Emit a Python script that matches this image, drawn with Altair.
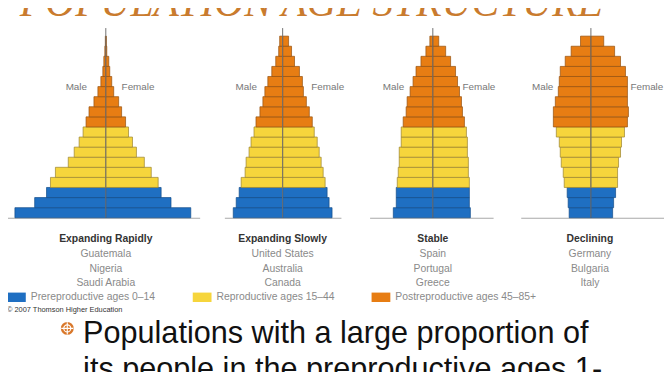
import altair as alt
import pandas as pd

# ---------------- data ----------------
TITLE = "POPULATION AGE STRUCTURE"
AGE_START = [0, 5, 10, 15, 20, 25, 30, 35, 40, 45, 50, 55, 60, 65, 70, 75, 80, 85]
GROUPS = ["Prereproductive ages 0–14", "Reproductive ages 15–44", "Postreproductive ages 45–85+"]
GROUP_COLORS = ["#1f6fc2", "#f6d53c", "#e77d13"]
GROUP_STROKES = ["#114c88", "#9a8330", "#94500f"]

NAMES = ["Expanding Rapidly", "Expanding Slowly", "Stable", "Declining"]
COUNTRIES = [
    ["Guatemala", "Nigeria", "Saudi Arabia"],
    ["United States", "Australia", "Canada"],
    ["Spain", "Portugal", "Greece"],
    ["Germany", "Bulgaria", "Italy"],
]
# percent of population, ages 0-4 ... 85+
MALE = [
    [9.2, 7.2, 6.0, 5.6, 5.1, 3.8, 3.2, 2.7, 2.3, 2.0, 1.7, 1.2, 0.8, 0.5, 0.3, 0.2, 0.1, 0.05],
    [5.0, 4.7, 4.4, 4.2, 3.8, 3.7, 3.4, 3.2, 2.9, 2.7, 2.3, 2.0, 1.8, 1.5, 1.1, 0.7, 0.4, 0.3],
    [4.0, 3.7, 3.7, 3.6, 3.5, 3.4, 3.4, 3.2, 3.2, 3.0, 2.7, 2.6, 2.3, 2.0, 1.7, 1.2, 0.7, 0.3],
    [2.2, 2.3, 2.4, 2.7, 2.8, 3.0, 3.1, 3.2, 3.5, 3.8, 3.8, 3.6, 3.3, 3.2, 3.1, 2.6, 2.0, 1.05],
]
FEMALE = [
    [8.6, 6.6, 5.6, 5.3, 4.6, 3.9, 3.1, 2.7, 2.3, 2.0, 1.6, 1.3, 0.8, 0.6, 0.4, 0.3, 0.1, 0.05],
    [5.0, 4.7, 4.5, 4.3, 4.1, 3.9, 3.7, 3.5, 3.2, 3.0, 2.7, 2.4, 2.1, 2.0, 1.7, 1.2, 0.9, 0.6],
    [3.8, 3.7, 3.7, 3.7, 3.6, 3.6, 3.5, 3.5, 3.4, 3.2, 3.0, 2.9, 2.7, 2.5, 2.3, 1.8, 1.3, 0.6],
    [2.2, 2.3, 2.5, 2.7, 2.7, 2.8, 3.0, 3.1, 3.4, 3.7, 3.8, 3.7, 3.7, 3.7, 3.5, 3.0, 2.4, 1.3],
]
SEXES = ["Male", "Female"]
COPYRIGHT = "© 2007 Thomson Higher Education"
BULLET_LINES = ["Populations with a large proportion of", "its people in the preproductive ages 1-"]

# ---------------- layout ----------------
PX_PER_UNIT = 10
PANEL_DOMAIN = [(-10.0, 9.5), (-5.9, 5.9), (-6.4, 6.1), (-7.1, 7.4)]
LABEL_X = [(-1.9, 1.6), (-2.6, 2.9), (-2.9, 3.0), (-3.8, 4.0)]
LABEL_AGE = 65
TITLE_DX = [2.5, 0, 1.5, -2.5]
PLOT_H = 192
FONT = "Liberation Sans"


def group_of(age):
    if age < 15:
        return GROUPS[0]
    if age < 45:
        return GROUPS[1]
    return GROUPS[2]


legend = alt.Legend(
    orient="none", legendX=0, legendY=309, direction="horizontal", title=None,
    symbolType="M-1,-0.5H1V0.5H-1Z", symbolSize=361, symbolStrokeWidth=0,
    symbolOpacity=1, labelFontSize=10.5, labelColor="#8a8a8a", labelFont=FONT,
    labelOffset=5, columnPadding=37, gridAlign="each",
)


def panel(i):
    rows = []
    for a, m, f in zip(AGE_START, MALE[i], FEMALE[i]):
        rows.append({"age": a, "sex": "Male", "pct": m, "group": group_of(a)})
        rows.append({"age": a, "sex": "Female", "pct": f, "group": group_of(a)})
    df = pd.DataFrame(rows)
    lo, hi = PANEL_DOMAIN[i]
    xscale = alt.Scale(domain=[lo, hi], nice=False, zero=False)
    yscale = alt.Scale(domain=[0, 94], nice=False)
    bars = alt.Chart(df).transform_calculate(
        signed="datum.sex == 'Male' ? -datum.pct : datum.pct",
        zero="0",
        age_end="datum.age + 5",
    ).mark_bar(strokeWidth=0.7).encode(
        x=alt.X("signed:Q", scale=xscale, title=None,
                axis=alt.Axis(labels=False, ticks=False, grid=False, domain=True,
                              domainColor="#a8a8a8", domainWidth=1.2)),
        x2="zero:Q",
        y=alt.Y("age:Q", scale=yscale, axis=None),
        y2="age_end:Q",
        color=alt.Color("group:N", scale=alt.Scale(domain=GROUPS, range=GROUP_COLORS), legend=legend),
        stroke=alt.Stroke("group:N", scale=alt.Scale(domain=GROUPS, range=GROUP_STROKES), legend=None),
    )
    center = alt.Chart(pd.DataFrame({"center": [0]})).mark_rule(
        color="#707070", strokeWidth=1
    ).encode(x="center:Q")
    sex_df = pd.DataFrame({"sex": SEXES})
    male_lbl = alt.Chart(sex_df).transform_filter("datum.sex == 'Male'").mark_text(
        align="right", baseline="middle", fontSize=10, color="#777777", font=FONT
    ).encode(x=alt.datum(LABEL_X[i][0]), y=alt.datum(LABEL_AGE), text="sex:N")
    female_lbl = alt.Chart(sex_df).transform_filter("datum.sex == 'Female'").mark_text(
        align="left", baseline="middle", fontSize=10, color="#777777", font=FONT
    ).encode(x=alt.datum(LABEL_X[i][1]), y=alt.datum(LABEL_AGE), text="sex:N")
    width = round((hi - lo) * PX_PER_UNIT)
    return alt.layer(bars, center, male_lbl, female_lbl).properties(
        width=width, height=PLOT_H,
        title=alt.TitleParams(
            text=NAMES[i], subtitle=COUNTRIES[i], orient="bottom", anchor="middle",
            fontSize=10.5, fontWeight="bold", color="#333333", font=FONT,
            subtitleFontSize=10.5, subtitleColor="#8a8a8a", subtitleFont=FONT,
            subtitleLineHeight=14.5, subtitlePadding=5, offset=16, dx=TITLE_DX[i],
        ),
    )


pyramids = alt.HConcatChart(hconcat=[panel(i) for i in range(4)], spacing=25)

title_row = alt.Chart(pd.DataFrame({"title": [TITLE]})).mark_text(
    align="left", baseline="alphabetic", font="Liberation Serif", fontStyle="italic",
    fontSize=42, color="#c97b2e"
).encode(x=alt.value(13), y=alt.value(34), text="title:N").properties(width=650, height=34)

copy_txt = alt.Chart(pd.DataFrame({"t": [COPYRIGHT]})).mark_text(
    align="left", baseline="middle", fontSize=7.5, color="#333333", font=FONT
).encode(x=alt.value(0), y=alt.value(21), text="t:N")
bullet_disc = alt.Chart(pd.DataFrame({"t": [BULLET_LINES[0]]})).mark_point(
    shape="circle", filled=True, fill="#d9782b", size=170, opacity=1, strokeWidth=0
).encode(x=alt.value(61), y=alt.value(40))
bullet_ring = alt.Chart(pd.DataFrame({"t": [BULLET_LINES[0]]})).mark_point(
    shape="circle", filled=False, stroke="white", size=50, strokeWidth=1.2, opacity=1
).encode(x=alt.value(61), y=alt.value(40))
bullet_cross = alt.Chart(pd.DataFrame({"t": [BULLET_LINES[0]]})).mark_point(
    shape="M-1,0L1,0M0,-1L0,1", filled=False, stroke="white", size=150, strokeWidth=1.1, opacity=1
).encode(x=alt.value(61), y=alt.value(40))
line1 = alt.Chart(pd.DataFrame({"t": [BULLET_LINES[0]]})).mark_text(
    align="left", baseline="alphabetic", fontSize=31, color="#111111", font=FONT
).encode(x=alt.value(77), y=alt.value(55), text="t:N")
line2 = alt.Chart(pd.DataFrame({"t": [BULLET_LINES[1]]})).mark_text(
    align="left", baseline="alphabetic", fontSize=31, color="#111111", font=FONT
).encode(x=alt.value(77), y=alt.value(91), text="t:N")
bottom_row = alt.layer(copy_txt, bullet_disc, bullet_ring, bullet_cross, line1, line2).properties(
    width=650, height=95
)

inner = alt.VConcatChart(vconcat=[pyramids, bottom_row], spacing=0)
chart = alt.VConcatChart(vconcat=[title_row, inner], spacing=3).resolve_scale(
    color="shared", stroke="shared"
).properties(
    padding={"top": -28, "left": -1, "right": 0, "bottom": 0}
).configure(font=FONT).configure_view(strokeWidth=0, strokeOpacity=0)

chart.save("out.html", embed_options={"renderer": "svg", "actions": False})
